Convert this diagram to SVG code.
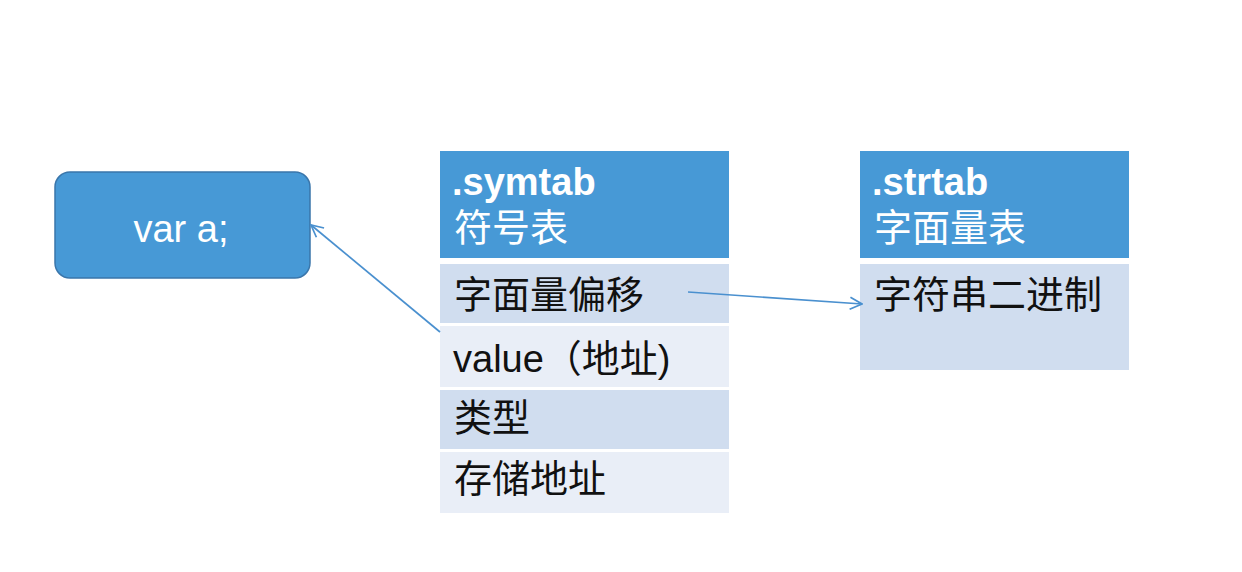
<svg xmlns="http://www.w3.org/2000/svg" width="1242" height="572" viewBox="0 0 1242 572">
<defs>
<style>
.hdr{fill:#4799d6}
.rowA{fill:#d0ddef}
.rowB{fill:#e9eef7}
.t{font-family:"Liberation Sans","Noto Sans CJK SC",sans-serif;font-size:38px}
.w{fill:#ffffff}
.k{fill:#111111}
.b{font-weight:bold}
.conn{stroke:#4a90cf;stroke-width:1.7;fill:none}
</style>
<marker id="arr" viewBox="0 0 14 14" refX="13" refY="7" markerWidth="14" markerHeight="14" markerUnits="userSpaceOnUse" orient="auto">
<path d="M1,1 L13,7 L1,13" fill="none" stroke="#4a90cf" stroke-width="1.7"/>
</marker>
</defs>
<rect width="1242" height="572" fill="#ffffff"/>
<g id="var-a">
<rect x="55" y="172" width="255" height="106" rx="15" fill="#4799d6" stroke="#3a76ab" stroke-width="1.5"/>
<text class="t w" x="181" y="242" text-anchor="middle">var a;</text>
</g>
<g id="symtab">
<rect class="hdr" x="440" y="151" width="289" height="107"/>
<text class="t w b" x="452" y="195">.symtab</text>
<text class="t w" x="454" y="241">符号表</text>
<rect class="rowA" x="440" y="264" width="289" height="59"/>
<text class="t k" x="454" y="308">字面量偏移</text>
<rect class="rowB" x="440" y="326" width="289" height="61"/>
<text class="t k" x="453" y="372">value（地址)</text>
<rect class="rowA" x="440" y="390" width="289" height="59"/>
<text class="t k" x="454" y="431">类型</text>
<rect class="rowB" x="440" y="452" width="289" height="61"/>
<text class="t k" x="454" y="492">存储地址</text>
</g>
<g id="strtab">
<rect class="hdr" x="860" y="151" width="269" height="107"/>
<text class="t w b" x="872" y="195">.strtab</text>
<text class="t w" x="874" y="241">字面量表</text>
<rect class="rowA" x="860" y="264" width="269" height="106"/>
<text class="t k" x="874" y="308">字符串二进制</text>
</g>
<g id="connectors">
<line class="conn" x1="440" y1="332" x2="311" y2="225" marker-end="url(#arr)"/>
<line class="conn" x1="688" y1="292" x2="862" y2="304" marker-end="url(#arr)"/>
</g>
</svg>
